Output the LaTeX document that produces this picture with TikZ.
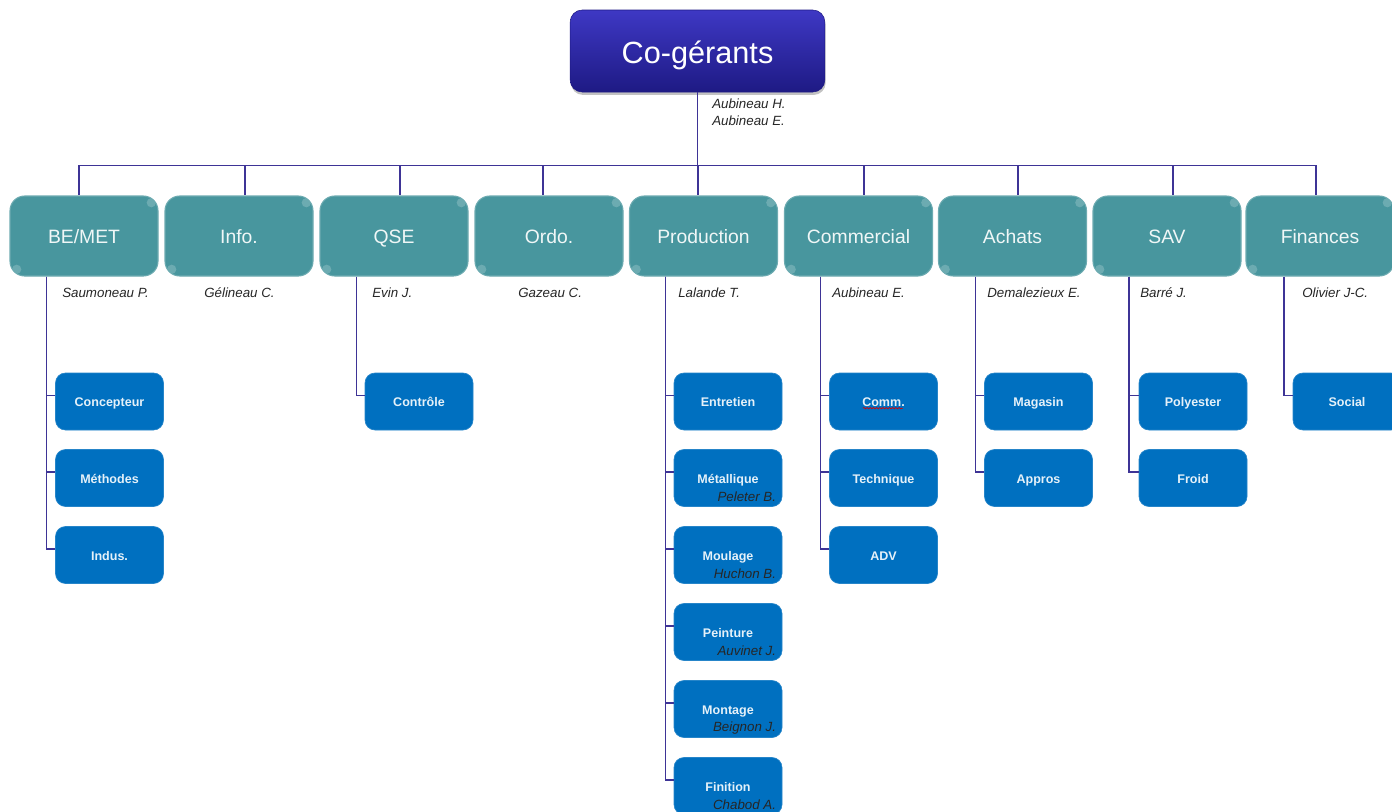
\documentclass[tikz,border=0pt]{standalone}
\usepackage{fontspec}
\setmainfont{Liberation Sans}
\usetikzlibrary{shadows,decorations.pathmorphing}

\definecolor{headtop}{RGB}{62,56,196}
\definecolor{headbot}{RGB}{30,26,132}
\definecolor{deptteal}{RGB}{72,150,158}
\definecolor{teamblue}{RGB}{0,112,192}
\definecolor{linkblue}{RGB}{62,52,150}

\begin{document}
\begin{tikzpicture}[x=0.75pt, y=-0.75pt]
        % Define block styles
        \tikzstyle{head} = [rectangle, rounded corners=9pt, top color=headtop, bottom color=headbot,
            draw=headbot, minimum width=191pt, minimum height=61.5pt, text=white,
            text height=19pt, text depth=0pt,
            font=\fontsize{23}{27}\selectfont,
            drop shadow={shadow xshift=0.6pt, shadow yshift=-2.2pt, opacity=.4, fill=black!60}]
        \tikzstyle{dept} = [rectangle, rounded corners=11pt, fill=deptteal, draw=deptteal!80!white,
            line width=0.8pt, minimum width=111pt, minimum height=60pt, text=white!92!deptteal,
            text height=10.6pt, text depth=0pt,
            font=\fontsize{14.5}{17}\selectfont,
            path picture={
              \fill[white, opacity=.2] ([xshift=-5pt,yshift=-5pt]path picture bounding box.north east) circle (3.5pt);
              \fill[white, opacity=.2] ([xshift=5pt,yshift=5pt]path picture bounding box.south west) circle (3.5pt);}]
        \tikzstyle{team} = [rectangle, rounded corners=7.5pt, fill=teamblue, draw=teamblue!85!white,
            line width=0.5pt, minimum width=81pt, minimum height=42.75pt, text=white!90!teamblue,
            text height=7.7pt, text depth=0pt,
            font=\bfseries\fontsize{9.4}{11}\selectfont]
        \tikzstyle{person} = [inner sep=0pt, text=black!85, font=\itshape\fontsize{10}{12.5}\selectfont]
        \tikzstyle{line} = [draw=linkblue, line width=0.9pt]

        \useasboundingbox (0,0) rectangle (1392,811);

        % Nodes
        \node [head] (cogerants) at (697.5,51) {Co-gérants};
        \node [person, anchor=north west, align=left] (gerants) at (712,99) {Aubineau H.\\Aubineau E.};

        \node [dept] (bemet) at (84,236) {BE/MET};
        \node [dept] (info) at (239,236) {Info.};
        \node [dept] (qse) at (394,236) {QSE};
        \node [dept] (ordo) at (549,236) {Ordo.};
        \node [dept] (prod) at (703.5,236) {Production};
        \node [dept] (commercial) at (858.5,236) {Commercial};
        \node [dept] (achats) at (1012.5,236) {Achats};
        \node [dept] (sav) at (1167,236) {SAV};
        \node [dept] (finances) at (1320,236) {Finances};

        \node [person, anchor=west] (saumoneau) at (62,293) {Saumoneau P.};
        \node [person, anchor=west] (gelineau) at (204,293) {Gélineau C.};
        \node [person, anchor=west] (evin) at (372,293) {Evin J.};
        \node [person, anchor=west] (gazeau) at (518,293) {Gazeau C.};
        \node [person, anchor=west] (lalande) at (678,293) {Lalande T.};
        \node [person, anchor=west] (aubineau) at (832,293) {Aubineau E.};
        \node [person, anchor=west] (demalezieux) at (987,293) {Demalezieux E.};
        \node [person, anchor=west] (barre) at (1140,293) {Barré J.};
        \node [person, anchor=west] (olivier) at (1302,293) {Olivier J-C.};

        \node [team] (concepteur) at (109.5,401.5) {Concepteur};
        \node [team] (methodes) at (109.5,478) {Méthodes};
        \node [team] (indus) at (109.5,555) {Indus.};

        \node [team] (controle) at (419,401.5) {Contrôle};

        \node [team] (entretien) at (728,401.5) {Entretien};
        \node [team] (metal) at (728,478) {Métallique};
        \node [team] (moulage) at (728,555) {Moulage};
        \node [team] (peinture) at (728,632) {Peinture};
        \node [team] (montage) at (728,709) {Montage};
        \node [team] (finition) at (728,786) {Finition};
        \node [person, anchor=east] (peleter) at ([xshift=-4.5pt,yshift=7.5pt]metal.south east) {Peleter B.};
        \node [person, anchor=east] (huchon) at ([xshift=-4.5pt,yshift=7.5pt]moulage.south east) {Huchon B.};
        \node [person, anchor=east] (auvinet) at ([xshift=-4.5pt,yshift=7.5pt]peinture.south east) {Auvinet J.};
        \node [person, anchor=east] (beignon) at ([xshift=-4.5pt,yshift=7.5pt]montage.south east) {Beignon J.};
        \node [person, anchor=east] (chabod) at ([xshift=-4.5pt,yshift=7.5pt]finition.south east) {Chabod A.};

        \node [team] (comm) at (883.5,401.5) {Comm.};
        \node [team] (technique) at (883.5,478) {Technique};
        \node [team] (adv) at (883.5,555) {ADV};
        \draw [red!85!black, line width=0.5pt, decorate, decoration={snake, amplitude=0.5pt, segment length=2.4pt}]
            ([xshift=-15.5pt,yshift=-5pt]comm.center) -- ([xshift=14.5pt,yshift=-5pt]comm.center);

        \node [team] (magasin) at (1038.5,401.5) {Magasin};
        \node [team] (appros) at (1038.5,478) {Appros};

        \node [team] (polyester) at (1193,401.5) {Polyester};
        \node [team] (froid) at (1193,478) {Froid};

        \node [team] (social) at (1347,401.5) {Social};

        % Lines
        \path [line] (cogerants.south) -- ++(0,73) -| ([xshift=-3.75pt]bemet.north);
        \path [line] (cogerants.south) -- ++(0,73) -| ([xshift=4.5pt]info.north);
        \path [line] (cogerants.south) -- ++(0,73) -| ([xshift=4.5pt]qse.north);
        \path [line] (cogerants.south) -- ++(0,73) -| ([xshift=-4.5pt]ordo.north);
        \path [line] (cogerants.south) -- ++(0,73) -| ([xshift=-4.1pt]prod.north);
        \path [line] (cogerants.south) -- ++(0,73) -| ([xshift=4.1pt]commercial.north);
        \path [line] (cogerants.south) -- ++(0,73) -| ([xshift=4.1pt]achats.north);
        \path [line] (cogerants.south) -- ++(0,73) -| ([xshift=4.5pt]sav.north);
        \path [line] (cogerants.south) -- ++(0,73) -| ([xshift=-3pt]finances.north);

        \path [line] ([xshift=-28pt]bemet.south) |- ([yshift=4.5pt]concepteur.west);
        \path [line] ([xshift=-28pt]bemet.south) |- ([yshift=4.5pt]methodes.west);
        \path [line] ([xshift=-28pt]bemet.south) |- ([yshift=4.5pt]indus.west);

        \path [line] ([xshift=-28pt]qse.south) |- ([yshift=4.5pt]controle.west);

        \path [line] ([xshift=-28.5pt]prod.south) |- ([yshift=4.5pt]entretien.west);
        \path [line] ([xshift=-28.5pt]prod.south) |- ([yshift=4.5pt]metal.west);
        \path [line] ([xshift=-28.5pt]prod.south) |- ([yshift=4.5pt]moulage.west);
        \path [line] ([xshift=-28.5pt]prod.south) |- ([yshift=4.5pt]peinture.west);
        \path [line] ([xshift=-28.5pt]prod.south) |- ([yshift=4.5pt]montage.west);
        \path [line] ([xshift=-28.5pt]prod.south) |- ([yshift=4.5pt]finition.west);

        \path [line] ([xshift=-28.5pt]commercial.south) |- ([yshift=4.5pt]comm.west);
        \path [line] ([xshift=-28.5pt]commercial.south) |- ([yshift=4.5pt]technique.west);
        \path [line] ([xshift=-28.5pt]commercial.south) |- ([yshift=4.5pt]adv.west);

        \path [line] ([xshift=-28pt]achats.south) |- ([yshift=4.5pt]magasin.west);
        \path [line] ([xshift=-28pt]achats.south) |- ([yshift=4.5pt]appros.west);

        \path [line] ([xshift=-28.5pt]sav.south) |- ([yshift=4.5pt]polyester.west);
        \path [line] ([xshift=-28.5pt]sav.south) |- ([yshift=4.5pt]froid.west);

        \path [line] ([xshift=-27pt]finances.south) |- ([yshift=4.5pt]social.west);
    \end{tikzpicture}
\end{document}
